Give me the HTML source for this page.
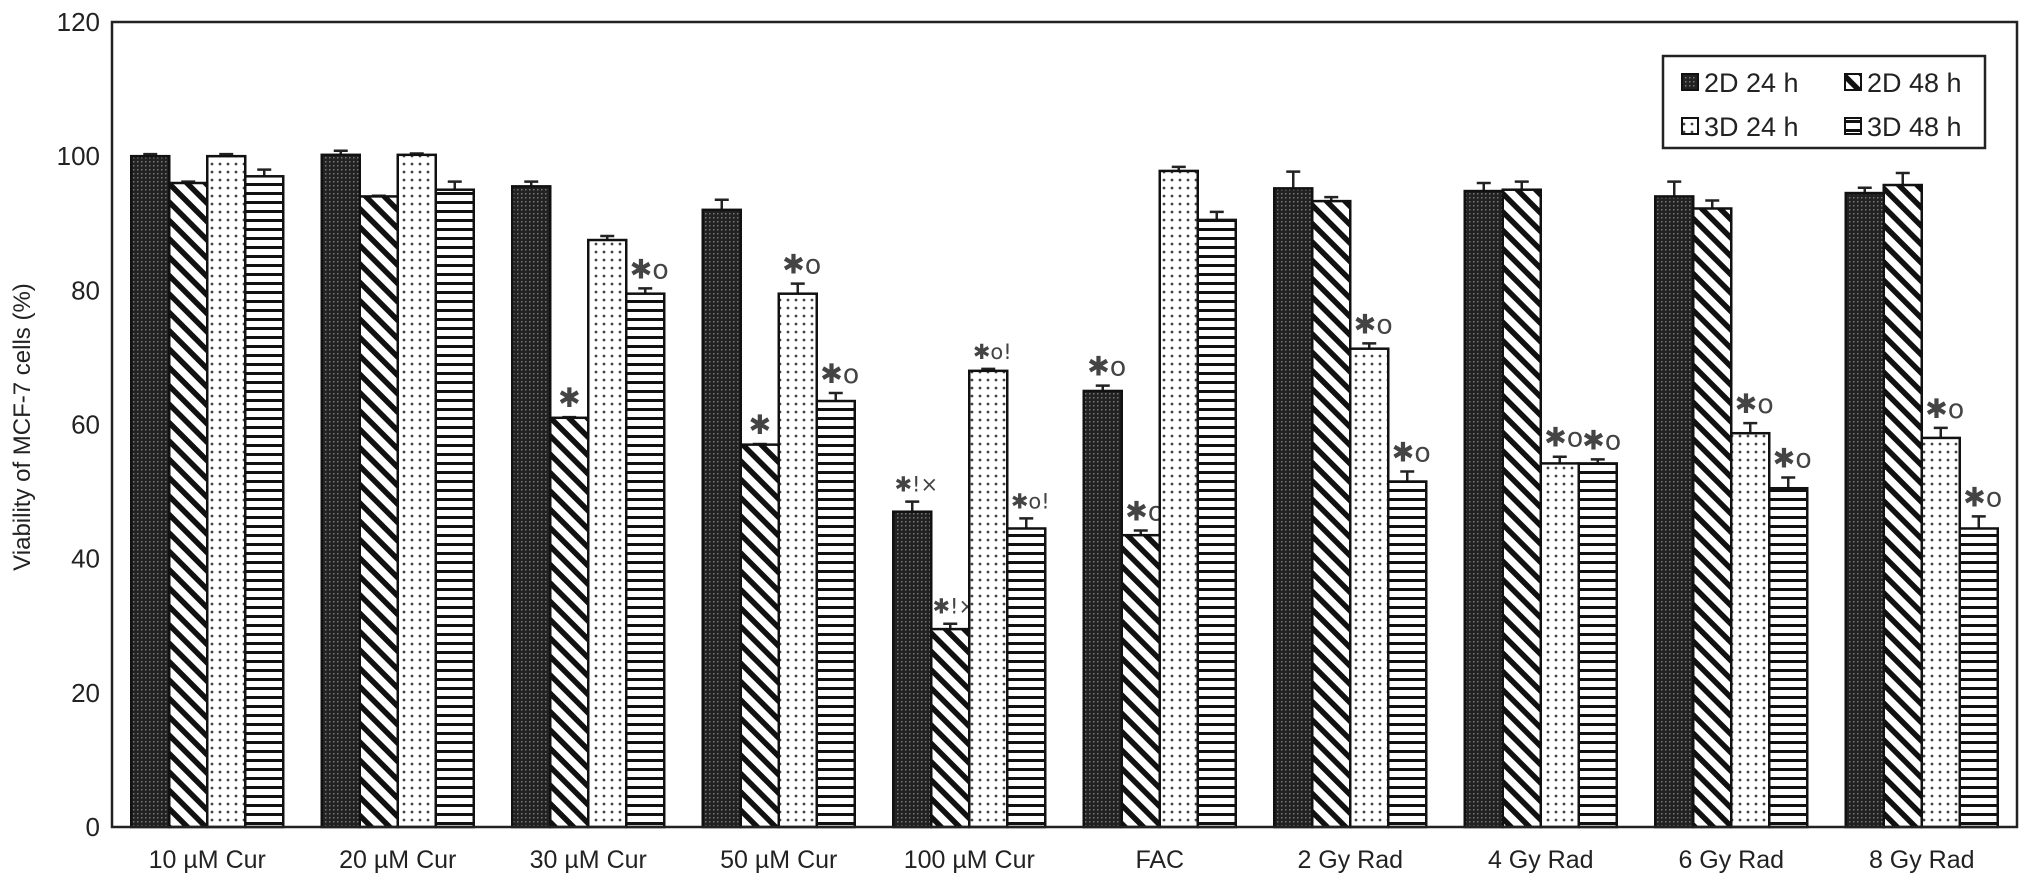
<!DOCTYPE html>
<html><head><meta charset="utf-8"><style>
html,body{margin:0;padding:0;background:#fff;}
svg{display:block;font-family:"Liberation Sans",Arial,sans-serif;}
</style></head><body>
<svg id="chart" width="2031" height="888" viewBox="0 0 2031 888" xmlns="http://www.w3.org/2000/svg">
<defs>
<pattern id="p0" patternUnits="userSpaceOnUse" width="4" height="4"><rect width="4" height="4" fill="#222"/><rect x="1" y="1" width="1.5" height="1.5" fill="#777"/></pattern>
<pattern id="p1" patternUnits="userSpaceOnUse" width="13" height="13" patternTransform="rotate(-45)"><rect width="13" height="13" fill="#fff"/><rect width="5.5" height="13" fill="#111"/></pattern>
<pattern id="p2" patternUnits="userSpaceOnUse" width="8" height="8"><rect width="8" height="8" fill="#fff"/><circle cx="4" cy="4" r="1.4" fill="#444"/></pattern>
<pattern id="p3" patternUnits="userSpaceOnUse" width="9" height="9"><rect width="9" height="9" fill="#fff"/><rect y="3" width="9" height="3" fill="#111"/></pattern>
</defs>
<g id="plot"></g>
</svg>
<script>
const categories=["10 µM Cur","20 µM Cur","30 µM Cur","50 µM Cur","100 µM Cur","FAC","2 Gy Rad","4 Gy Rad","6 Gy Rad","8 Gy Rad"];
const seriesNames=["2D 24 h","2D 48 h","3D 24 h","3D 48 h"];
const s2D24=[100,100.2,95.5,92,47,65,95.2,94.8,94,94.5];
const s2D48=[96,94,61,57,29.5,43.5,93.3,95,92.2,95.7];
const s3D24=[100,100.2,87.5,79.5,68,97.8,71.3,54.2,58.7,58];
const s3D48=[97,95,79.5,63.5,44.5,90.5,51.5,54.2,50.5,44.5];
const e2D24=[0.3,0.6,0.7,1.5,1.5,0.8,2.5,1.2,2.2,0.8];
const e2D48=[0.2,0.1,0.1,0.1,0.8,0.7,0.6,1.2,1.2,1.8];
const e3D24=[0.3,0.2,0.6,1.5,0.3,0.6,0.8,1,1.5,1.5];
const e3D48=[1,1.2,0.8,1.2,1.5,1.2,1.5,0.6,1.6,1.8];
const a2D24=["","","","","✱!×","✱o","","","",""];
const a2D48=["","","✱","✱","✱!×","✱o","","","",""];
const a3D24=["","","","✱o","✱o!","","✱o","✱o","✱o","✱o"];
const a3D48=["","","✱o","✱o","✱o!","","✱o","✱o","✱o","✱o"];
const yTicks=[0,20,40,60,80,100,120];

const NS="http://www.w3.org/2000/svg";
const g=document.getElementById('plot');
const L=112,R=2017,T=22,B=827,YMAX=120;
const y=v=>B-(v/YMAX)*(B-T);
const band=(R-L)/categories.length;
const bw=38;
const x=(ci,si)=>L+band*ci+band/2-2*bw+si*bw;
function mk(tag,attrs){const e=document.createElementNS(NS,tag);for(const k in attrs)e.setAttribute(k,attrs[k]);return e;}
const vals=[s2D24,s2D48,s3D24,s3D48],errs=[e2D24,e2D48,e3D24,e3D48],anns=[a2D24,a2D48,a3D24,a3D48];

categories.forEach((c,ci)=>{
  vals.forEach((sv,si)=>{
    const v=sv[ci],bx=x(ci,si),top=y(v),e=errs[si][ci];
    const er=mk('path',{d:`M${bx+bw/2} ${top} V${y(v+e)} M${bx+bw/2-7} ${y(v+e)} H${bx+bw/2+7}`,stroke:'#222','stroke-width':2.5,fill:'none'});
    
    
    g.appendChild(er);
    const r=mk('rect',{x:bx,y:top,width:bw,height:B-top,fill:`url(#p${si})`,stroke:'#111','stroke-width':2.5});
    
    
    g.appendChild(r);
    const a=anns[si][ci];
    if(a){
      const t=mk('text',{x:bx+bw/2+(a.length>1?4:0),y:y(v+e)-10,'text-anchor':'middle','font-size':(a.length>2?21:27),fill:'#444','font-family':'"DejaVu Sans",sans-serif'});
      t.textContent=a;
      
      
      g.appendChild(t);
    }
  });
  const lt=mk('text',{x:L+band*ci+band/2,y:868,'text-anchor':'middle','font-size':25,fill:'#222'});
  lt.textContent=c;
  
  
  g.appendChild(lt);
});
yTicks.forEach(t=>{
  const tt=mk('text',{x:100,y:y(t)+9,'text-anchor':'end','font-size':26,fill:'#222'});
  tt.textContent=t;
  
  
  g.appendChild(tt);
});
const frame=mk('rect',{x:L,y:T,width:R-L,height:B-T,fill:'none',stroke:'#222','stroke-width':2.5});


g.appendChild(frame);
const yl=mk('text',{x:0,y:0,transform:'translate(30,427) rotate(-90)','text-anchor':'middle','font-size':24,fill:'#222'});
yl.textContent='Viability of MCF-7 cells (%)';


g.appendChild(yl);
const lg=mk('g',{});


g.appendChild(lg);
lg.appendChild(mk('rect',{x:1663,y:56,width:322,height:92,fill:'#fff',stroke:'#222','stroke-width':2.5}));
seriesNames.forEach((n,i)=>{
  const lx=1682+(i%2)*163, ly=82+Math.floor(i/2)*44;
  const ent=mk('g',{});
  
  
  ent.appendChild(mk('rect',{x:lx,y:ly-8,width:16,height:16,fill:`url(#p${i})`,stroke:'#111','stroke-width':2}));
  const t=mk('text',{x:lx+22,y:ly+10,'font-size':27,fill:'#222'});
  t.textContent=n;
  ent.appendChild(t);
  lg.appendChild(ent);
});
</script>
</body></html>
